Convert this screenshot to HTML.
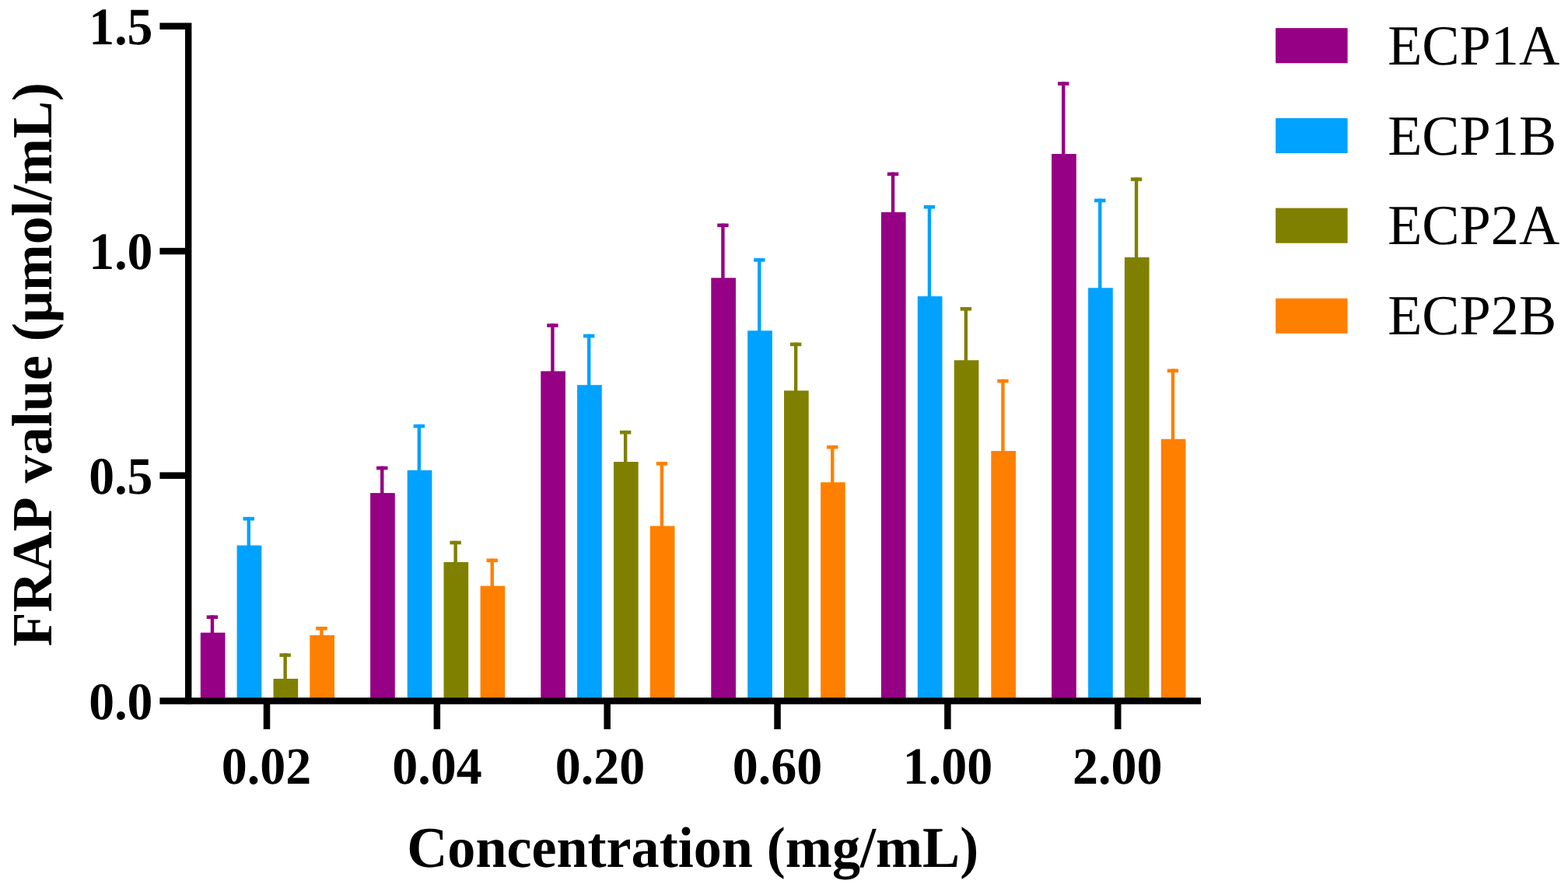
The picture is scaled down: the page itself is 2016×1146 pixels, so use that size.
<!DOCTYPE html>
<html lang="en"><head><meta charset="utf-8"><title>FRAP value chart</title>
<style>html,body{margin:0;padding:0;background:#fff;}body{width:2016px;height:1146px;overflow:hidden;}svg{display:block;}text{font-family:"Liberation Serif","DejaVu Serif",serif;fill:#000;text-rendering:geometricPrecision;font-kerning:none;}.tk{font-weight:bold;font-size:66px;}.ti{font-weight:bold;font-size:72.1px;}.ty{font-weight:bold;font-size:72.1px;}.lg{font-size:72.3px;}</style>
</head><body>
<svg width="2016" height="1146" viewBox="0 0 2016 1146">
<rect x="0" y="0" width="2016" height="1146" fill="#ffffff"/>
<rect x="257.8" y="813.7" width="31.7" height="85.6" fill="#960084"/>
<rect x="270.75" y="791.4" width="4.4" height="23.3" fill="#960084"/>
<rect x="265.75" y="791.4" width="14.4" height="4.6" fill="#960084"/>
<rect x="304.6" y="701.5" width="31.7" height="197.8" fill="#00A2FF"/>
<rect x="317.55" y="664.9" width="4.4" height="37.6" fill="#00A2FF"/>
<rect x="312.55" y="664.9" width="14.4" height="4.6" fill="#00A2FF"/>
<rect x="351.5" y="873.0" width="31.7" height="26.3" fill="#808000"/>
<rect x="364.45" y="840.3" width="4.4" height="33.7" fill="#808000"/>
<rect x="359.45" y="840.3" width="14.4" height="4.6" fill="#808000"/>
<rect x="398.3" y="817.0" width="31.7" height="82.3" fill="#FF8000"/>
<rect x="411.25" y="806.0" width="4.4" height="12.0" fill="#FF8000"/>
<rect x="406.25" y="806.0" width="14.4" height="4.6" fill="#FF8000"/>
<rect x="476.1" y="634.1" width="31.7" height="265.2" fill="#960084"/>
<rect x="489.05" y="599.7" width="4.4" height="35.4" fill="#960084"/>
<rect x="484.05" y="599.7" width="14.4" height="4.6" fill="#960084"/>
<rect x="523.7" y="604.8" width="31.7" height="294.5" fill="#00A2FF"/>
<rect x="536.65" y="545.8" width="4.4" height="60.0" fill="#00A2FF"/>
<rect x="531.65" y="545.8" width="14.4" height="4.6" fill="#00A2FF"/>
<rect x="570.5" y="723.0" width="31.7" height="176.3" fill="#808000"/>
<rect x="583.45" y="695.7" width="4.4" height="28.3" fill="#808000"/>
<rect x="578.45" y="695.7" width="14.4" height="4.6" fill="#808000"/>
<rect x="617.6" y="753.6" width="31.7" height="145.7" fill="#FF8000"/>
<rect x="630.55" y="718.5" width="4.4" height="36.1" fill="#FF8000"/>
<rect x="625.55" y="718.5" width="14.4" height="4.6" fill="#FF8000"/>
<rect x="695.3" y="477.4" width="31.7" height="421.9" fill="#960084"/>
<rect x="708.25" y="416.3" width="4.4" height="62.1" fill="#960084"/>
<rect x="703.25" y="416.3" width="14.4" height="4.6" fill="#960084"/>
<rect x="742.1" y="495.2" width="31.7" height="404.1" fill="#00A2FF"/>
<rect x="755.05" y="429.8" width="4.4" height="66.4" fill="#00A2FF"/>
<rect x="750.05" y="429.8" width="14.4" height="4.6" fill="#00A2FF"/>
<rect x="789.0" y="594.0" width="31.7" height="305.3" fill="#808000"/>
<rect x="801.95" y="553.8" width="4.4" height="41.2" fill="#808000"/>
<rect x="796.95" y="553.8" width="14.4" height="4.6" fill="#808000"/>
<rect x="835.8" y="676.5" width="31.7" height="222.8" fill="#FF8000"/>
<rect x="848.75" y="594.0" width="4.4" height="83.5" fill="#FF8000"/>
<rect x="843.75" y="594.0" width="14.4" height="4.6" fill="#FF8000"/>
<rect x="914.3" y="357.4" width="31.7" height="541.9" fill="#960084"/>
<rect x="927.25" y="287.5" width="4.4" height="70.9" fill="#960084"/>
<rect x="922.25" y="287.5" width="14.4" height="4.6" fill="#960084"/>
<rect x="961.2" y="425.3" width="31.7" height="474.0" fill="#00A2FF"/>
<rect x="974.15" y="332.1" width="4.4" height="94.2" fill="#00A2FF"/>
<rect x="969.15" y="332.1" width="14.4" height="4.6" fill="#00A2FF"/>
<rect x="1008.0" y="502.4" width="31.7" height="396.9" fill="#808000"/>
<rect x="1020.95" y="440.6" width="4.4" height="62.8" fill="#808000"/>
<rect x="1015.95" y="440.6" width="14.4" height="4.6" fill="#808000"/>
<rect x="1055.1" y="620.3" width="31.7" height="279.0" fill="#FF8000"/>
<rect x="1068.05" y="572.8" width="4.4" height="48.5" fill="#FF8000"/>
<rect x="1063.05" y="572.8" width="14.4" height="4.6" fill="#FF8000"/>
<rect x="1132.9" y="272.9" width="31.7" height="626.4" fill="#960084"/>
<rect x="1145.85" y="221.6" width="4.4" height="52.3" fill="#960084"/>
<rect x="1140.85" y="221.6" width="14.4" height="4.6" fill="#960084"/>
<rect x="1179.8" y="381.1" width="31.7" height="518.2" fill="#00A2FF"/>
<rect x="1192.75" y="263.9" width="4.4" height="118.2" fill="#00A2FF"/>
<rect x="1187.75" y="263.9" width="14.4" height="4.6" fill="#00A2FF"/>
<rect x="1226.7" y="463.3" width="31.7" height="436.0" fill="#808000"/>
<rect x="1239.65" y="395.0" width="4.4" height="69.3" fill="#808000"/>
<rect x="1234.65" y="395.0" width="14.4" height="4.6" fill="#808000"/>
<rect x="1274.3" y="580.0" width="31.7" height="319.3" fill="#FF8000"/>
<rect x="1287.25" y="487.8" width="4.4" height="93.2" fill="#FF8000"/>
<rect x="1282.25" y="487.8" width="14.4" height="4.6" fill="#FF8000"/>
<rect x="1352.1" y="198.0" width="31.7" height="701.3" fill="#960084"/>
<rect x="1365.05" y="105.3" width="4.4" height="93.7" fill="#960084"/>
<rect x="1360.05" y="105.3" width="14.4" height="4.6" fill="#960084"/>
<rect x="1399.1" y="370.3" width="31.7" height="529.0" fill="#00A2FF"/>
<rect x="1412.05" y="255.6" width="4.4" height="115.7" fill="#00A2FF"/>
<rect x="1407.05" y="255.6" width="14.4" height="4.6" fill="#00A2FF"/>
<rect x="1445.9" y="331.0" width="31.7" height="568.3" fill="#808000"/>
<rect x="1458.85" y="228.3" width="4.4" height="103.7" fill="#808000"/>
<rect x="1453.85" y="228.3" width="14.4" height="4.6" fill="#808000"/>
<rect x="1492.8" y="564.7" width="31.7" height="334.6" fill="#FF8000"/>
<rect x="1505.75" y="474.5" width="4.4" height="91.2" fill="#FF8000"/>
<rect x="1500.75" y="474.5" width="14.4" height="4.6" fill="#FF8000"/>
<rect x="238" y="29.4" width="8.4" height="876.4" fill="#000"/>
<rect x="205.4" y="897.3" width="1338.6" height="8.5" fill="#000"/>
<rect x="205.4" y="29.4" width="34" height="8.5" fill="#000"/>
<rect x="205.4" y="318.8" width="34" height="8.5" fill="#000"/>
<rect x="205.4" y="607.4" width="34" height="8.5" fill="#000"/>
<rect x="338.75" y="900" width="8.5" height="37.9" fill="#000"/>
<rect x="557.60" y="900" width="8.5" height="37.9" fill="#000"/>
<rect x="776.45" y="900" width="8.5" height="37.9" fill="#000"/>
<rect x="995.30" y="900" width="8.5" height="37.9" fill="#000"/>
<rect x="1214.15" y="900" width="8.5" height="37.9" fill="#000"/>
<rect x="1433.00" y="900" width="8.5" height="37.9" fill="#000"/>
<text class="tk" transform="translate(196.4 57.0) scale(1 1.03)" text-anchor="end" style="font-size:65.7px">1.5</text>
<text class="tk" transform="translate(196.4 346.4) scale(1 1.03)" text-anchor="end" style="font-size:65.7px">1.0</text>
<text class="tk" transform="translate(196.4 635.4) scale(1 1.03)" text-anchor="end" style="font-size:65.7px">0.5</text>
<text class="tk" transform="translate(196.4 925.4) scale(1 1.03)" text-anchor="end" style="font-size:65.7px">0.0</text>
<text class="tk"  transform="translate(342.6 1007.7) scale(1 1.02)" text-anchor="middle">0.02</text>
<text class="tk"  transform="translate(561.9 1007.7) scale(1 1.02)" text-anchor="middle">0.04</text>
<text class="tk"  transform="translate(771.6 1007.7) scale(1 1.02)" text-anchor="middle">0.20</text>
<text class="tk"  transform="translate(999.5 1007.7) scale(1 1.02)" text-anchor="middle">0.60</text>
<text class="tk"  transform="translate(1218.5 1007.7) scale(1 1.02)" text-anchor="middle">1.00</text>
<text class="tk"  transform="translate(1436.8 1007.7) scale(1 1.02)" text-anchor="middle">2.00</text>
<text class="ti" transform="translate(523.3 1115.4) scale(1 1.03)">Concentration (mg/mL)</text>
<text class="ty" transform="translate(65.8 831.6) rotate(-90) scale(1 1.015)">FRAP value (μmol/mL)</text>
<rect x="1640.1" y="36.1" width="92.5" height="45.1" fill="#960084"/>
<text class="lg" transform="translate(1784.2 82.7) scale(1 1.01)">ECP1A</text>
<rect x="1640.1" y="152.0" width="92.5" height="45.1" fill="#00A2FF"/>
<text class="lg" transform="translate(1784.2 198.6) scale(1 1.01)">ECP1B</text>
<rect x="1640.1" y="267.6" width="92.5" height="45.1" fill="#808000"/>
<text class="lg" transform="translate(1784.2 314.2) scale(1 1.01)">ECP2A</text>
<rect x="1640.1" y="383.8" width="92.5" height="45.1" fill="#FF8000"/>
<text class="lg" transform="translate(1784.2 430.4) scale(1 1.01)">ECP2B</text>
</svg></body></html>
